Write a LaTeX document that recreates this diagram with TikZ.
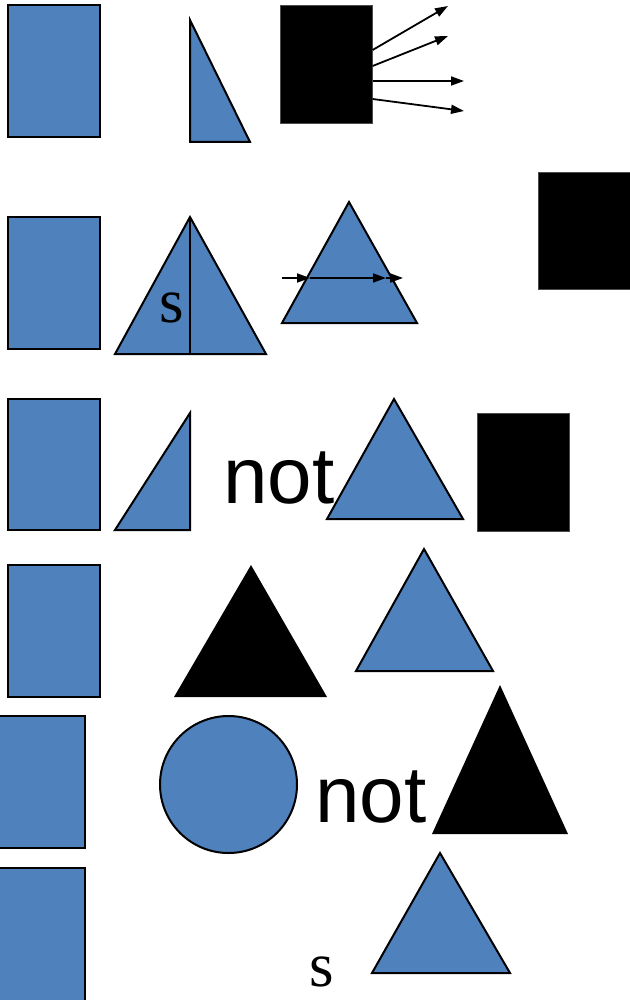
\documentclass[tikz,border=0pt]{standalone}
\usepackage{fontspec}
\newfontfamily\notfont{Liberation Sans}
\newfontfamily\letterfont{Liberation Serif}
\usetikzlibrary{arrows.meta}
\definecolor{shapeblue}{RGB}{79,129,189}
\tikzset{
  blueshape/.style={fill=shapeblue,draw=black,line width=2pt,line join=miter},
  blackshape/.style={fill=black,draw=black!70,line width=0.6pt},
  ray/.style={draw=black,line width=1.8pt,-{Triangle[length=13pt,width=9pt]}},
  bigword/.style={inner sep=0pt,anchor=base west,font=\notfont\fontsize{80}{80}\selectfont},
  letter/.style={inner sep=0pt,anchor=base west,font=\letterfont\fontsize{63}{63}\selectfont}
}
\begin{document}
\begin{tikzpicture}[x=1pt,y=-1pt]
\useasboundingbox (0,0) rectangle (629,1000);
\fill[white] (0,0) rectangle (629,1000);
% ---- row 1
\draw[blueshape] (8,5) rectangle (100,137);
\draw[blueshape] (190,20) -- (190,142) -- (250,142) -- cycle;
\node[blackshape,minimum width=92pt,minimum height=118pt,inner sep=0pt,anchor=north west] (box1) at (280,5) {};
\coordinate (e1) at (448,6);
\coordinate (e2) at (448,36);
\coordinate (e3) at (464,81);
\coordinate (e4) at (464,111);
\draw[ray] (box1.east |- 0,50) -- (e1);
\draw[ray] (box1.east |- 0,66) -- (e2);
\draw[ray] (box1.east |- 0,81) -- (e3);
\draw[ray] (box1.east |- 0,99) -- (e4);
\node[blackshape,minimum width=92pt,minimum height=117pt,inner sep=0pt,anchor=north west] (box2) at (538,172) {};
% ---- row 2
\draw[blueshape] (8,217) rectangle (100,349);
\draw[blueshape] (190,217) -- (266,354) -- (115,354) -- cycle;
\draw[line width=2pt] (190,217) -- (190,354);
\node[letter] (s1) at (159,322) {s};
\draw[blueshape] (349,202) -- (417,323) -- (282,323) -- cycle;
\coordinate (a0) at (282,278);
\coordinate (a1) at (310,278);
\coordinate (a2) at (386,278);
\coordinate (a3) at (403,278);
\draw[ray] (a0) -- (a1);
\draw[ray] (a1) -- (a2);
\draw[ray] (a2) -- (a3);
% ---- row 3
\draw[blueshape] (8,399) rectangle (100,530);
\draw[blueshape] (190,413) -- (190,530) -- (115,530) -- cycle;
\node[bigword] (not1) at (223,503) {not};
\draw[blueshape] (394,399) -- (463,519) -- (327,519) -- cycle;
\node[blackshape,minimum width=92pt,minimum height=118pt,inner sep=0pt,anchor=north west] (box3) at (477,413) {};
% ---- row 4
\draw[blueshape] (8,565) rectangle (100,697);
\fill[black] (251,565) -- (327,697) -- (174,697) -- cycle;
\draw[blueshape] (424,549) -- (493,671) -- (356,671) -- cycle;
% ---- row 5
\draw[blueshape] (-3,716) rectangle (85,848);
\node[blueshape,circle,minimum size=137pt,inner sep=0pt] (circ) at (228.5,784.5) {};
\node[bigword] (not2) at (315,822) {not};
\fill[black] (500,685) -- (568,834) -- (432,834) -- cycle;
% ---- row 6
\draw[blueshape] (-3,868) rectangle (85,1003);
\node[letter] (s2) at (309,986) {s};
\draw[blueshape] (440,853) -- (510,973) -- (372,973) -- cycle;
\end{tikzpicture}
\end{document}
